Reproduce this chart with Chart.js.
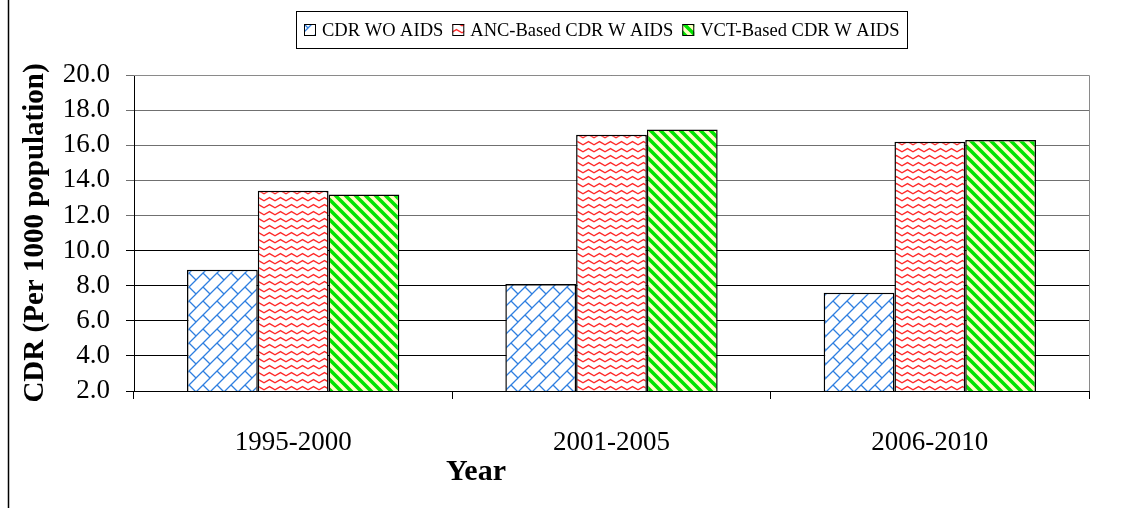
<!DOCTYPE html>
<html>
<head>
<meta charset="utf-8">
<script src="https://cdn.jsdelivr.net/npm/chart.js@4/dist/chart.umd.min.js"></script>
<style>
  html, body { margin: 0; padding: 0; background: #fff; }
  #chart { display: block; }
</style>
</head>
<body>
<canvas id="chart" width="1133" height="508"></canvas>
<script>
// CDR with / without AIDS, by period
const periods = ['1995-2000', '2001-2005', '2006-2010'];
const seriesNames = ['CDR WO AIDS', 'ANC-Based CDR W AIDS', 'VCT-Based CDR W AIDS'];
const cdrWithoutAids = [8.9, 8.1, 7.6];
const cdrAncBased = [13.4, 16.6, 16.2];
const cdrVctBased = [13.2, 16.9, 16.3];
const yMin = 2, yMax = 20, yStep = 2;
const xTitle = 'Year';
const yTitle = 'CDR (Per 1000 population)';

const FONT = '"Liberation Serif", "Times New Roman", serif';

// fill patterns similar to the spreadsheet hatching
function makePattern(kind) {
    const c = document.createElement('canvas');
    const g = c.getContext('2d');
    if (kind === 'brick') {
        c.width = 14; c.height = 14;
        g.fillStyle = '#fff';
        g.fillRect(0, 0, 14, 14);
        g.strokeStyle = '#2f7fe0';
        g.lineWidth = 1.3;
        g.beginPath();
        g.moveTo(-2, 16); g.lineTo(16, -2);
        g.moveTo(-8, 8); g.lineTo(8, -8);
        g.moveTo(6, 22); g.lineTo(22, 6);
        g.moveTo(7, 7); g.lineTo(14, 14);
        g.stroke();
    } else if (kind === 'wave') {
        c.width = 11; c.height = 7;
        g.fillStyle = '#fff';
        g.fillRect(0, 0, 11, 7);
        g.strokeStyle = '#ff2a2a';
        g.lineWidth = 1.4;
        g.beginPath();
        g.moveTo(-2.75, 3); g.lineTo(0, 4.8); g.lineTo(5.5, 1.6); g.lineTo(11, 4.8); g.lineTo(13.75, 3);
        g.stroke();
    } else {
        c.width = 10; c.height = 10;
        g.fillStyle = '#ffffc4';
        g.fillRect(0, 0, 10, 10);
        g.strokeStyle = '#00e400';
        g.lineWidth = 3.6;
        g.beginPath();
        for (const off of [-10, 0, 10]) {
            g.moveTo(off - 3, -3); g.lineTo(off + 13, 13);
        }
        g.stroke();
    }
    return g.createPattern(c, 'repeat');
}

const ctx = document.getElementById('chart').getContext('2d');
const fills = [makePattern('brick'), makePattern('wave'), makePattern('stripe')];
const values = [cdrWithoutAids, cdrAncBased, cdrVctBased];

// legend box + plot frame + outer left border + x title (sits left of centre in the original)
const framePlugin = {
    id: 'frame',
    afterDraw(chart) {
        const c = chart.ctx;
        const a = chart.chartArea;
        c.save();
        // plot area top/right edge
        c.strokeStyle = '#8a8a8a';
        c.lineWidth = 1;
        c.beginPath();
        c.moveTo(a.left, a.top + 0.5); c.lineTo(a.right + 0.5, a.top + 0.5);
        c.lineTo(a.right + 0.5, a.bottom);
        c.stroke();
        // outer chart border on the left
        c.strokeStyle = '#000';
        c.lineWidth = 1.5;
        c.beginPath();
        c.moveTo(8.5, 0); c.lineTo(8.5, chart.height);
        c.stroke();

        // x axis title
        c.font = 'bold 30px ' + FONT;
        c.fillStyle = '#000';
        c.textAlign = 'center';
        c.textBaseline = 'middle';
        c.fillText(xTitle, 476, 472);

        // legend
        c.font = '18.5px ' + FONT;
        c.textAlign = 'left';
        const box = 12, gapIn = 6, gapOut = 9;
        let total = 0;
        const widths = chart.data.datasets.map(ds => c.measureText(ds.label).width);
        widths.forEach((w, i) => { total += box + gapIn + w + (i < widths.length - 1 ? gapOut : 0); });
        const cx = (297 + 906) / 2;
        let x = Math.round(cx - total / 2);
        const yMid = 30;
        c.strokeStyle = '#000';
        c.lineWidth = 1;
        c.strokeRect(Math.round(x - 8) + 0.5, 11.5, Math.round(total + 16), 37);
        chart.data.datasets.forEach((ds, i) => {
            c.fillStyle = ds.backgroundColor;
            c.fillRect(x, yMid - 6, box, box);
            c.strokeRect(x + 0.5, yMid - 5.5, box - 1, box - 1);
            c.fillStyle = '#000';
            c.fillText(ds.label, x + box + gapIn, yMid + 1);
            x += box + gapIn + widths[i] + gapOut;
        });
        c.restore();
    }
};

new Chart(ctx, {
    type: 'bar',
    data: {
        labels: periods,
        datasets: seriesNames.map((name, i) => ({
            label: name,
            data: values[i],
            backgroundColor: fills[i],
            borderColor: '#000',
            borderWidth: 1.5,
            barPercentage: 1,
            categoryPercentage: 0.667
        }))
    },
    options: {
        responsive: false,
        animation: false,
        layout: { padding: { left: 8, right: 44, top: 75, bottom: 0 } },
        plugins: {
            legend: { display: false },
            tooltip: { enabled: false }
        },
        scales: {
            x: {
                offset: true,
                grid: {
                    offset: true,
                    drawOnChartArea: false,
                    drawTicks: true,
                    tickLength: 8,
                    color: '#000'
                },
                border: { color: '#000', width: 1 },
                ticks: {
                    color: '#000',
                    font: { family: FONT, size: 27 },
                    padding: 28
                },
                afterFit(scale) { scale.height = 117; }
            },
            y: {
                min: yMin,
                max: yMax,
                grid: {
                    color: c => (c.tick && c.tick.value > 10 ? '#707070' : '#000'),
                    tickLength: 8,
                    lineWidth: 1
                },
                border: { color: '#000', width: 1 },
                ticks: {
                    stepSize: yStep,
                    autoSkip: false,
                    color: '#000',
                    font: { family: FONT, size: 27, lineHeight: 1 },
                    padding: 16,
                    callback: v => v.toFixed(1)
                },
                title: {
                    display: true,
                    text: yTitle,
                    color: '#000',
                    font: { family: FONT, size: 29, weight: 'bold' },
                    padding: { top: 10, bottom: 10 }
                },
                afterFit(scale) { scale.width = 126; }
            }
        }
    },
    plugins: [framePlugin]
});
</script>
</body>
</html>
